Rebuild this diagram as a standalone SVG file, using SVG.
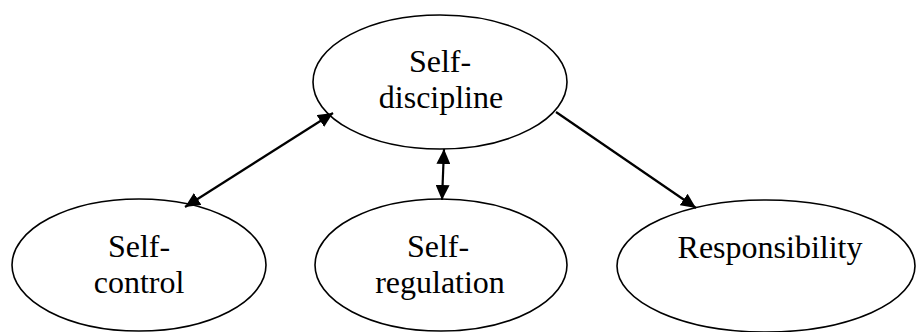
<svg xmlns="http://www.w3.org/2000/svg" width="916" height="332" viewBox="0 0 916 332">
<defs>
<marker id="ah" markerUnits="userSpaceOnUse" markerWidth="16" markerHeight="14" refX="15" refY="7" orient="auto-start-reverse">
<path d="M0,0 L15,7 L0,14 Z" fill="#000"/>
</marker>
</defs>
<style>
.n ellipse{fill:#fff;stroke:#000;stroke-width:1.6}
.n text{font-family:"Liberation Serif","Times New Roman",serif;font-size:32px;fill:#000;text-anchor:middle}
.c line{stroke:#000;stroke-width:2.2}
</style>
<rect width="916" height="332" fill="#fff"/>
<g id="self-discipline" class="n">
<ellipse cx="440" cy="82" rx="127" ry="67"/>
<text x="440" y="72">Self-</text>
<text x="441" y="108">discipline</text>
</g>
<g id="self-control" class="n">
<ellipse cx="139" cy="265" rx="127" ry="66"/>
<text x="139" y="257">Self-</text>
<text x="139" y="293">control</text>
</g>
<g id="self-regulation" class="n">
<ellipse cx="441" cy="265" rx="126" ry="66"/>
<text x="438" y="257">Self-</text>
<text x="440" y="293">regulation</text>
</g>
<g id="responsibility" class="n">
<ellipse cx="766" cy="266" rx="149" ry="66"/>
<text x="770" y="258">Responsibility</text>
</g>
<g id="connectors" class="c">
<line x1="185" y1="207" x2="333" y2="113" marker-start="url(#ah)" marker-end="url(#ah)"/>
<line x1="442" y1="200" x2="444" y2="149" marker-start="url(#ah)" marker-end="url(#ah)"/>
<line x1="556" y1="112" x2="696" y2="208" marker-end="url(#ah)"/>
</g>
</svg>
